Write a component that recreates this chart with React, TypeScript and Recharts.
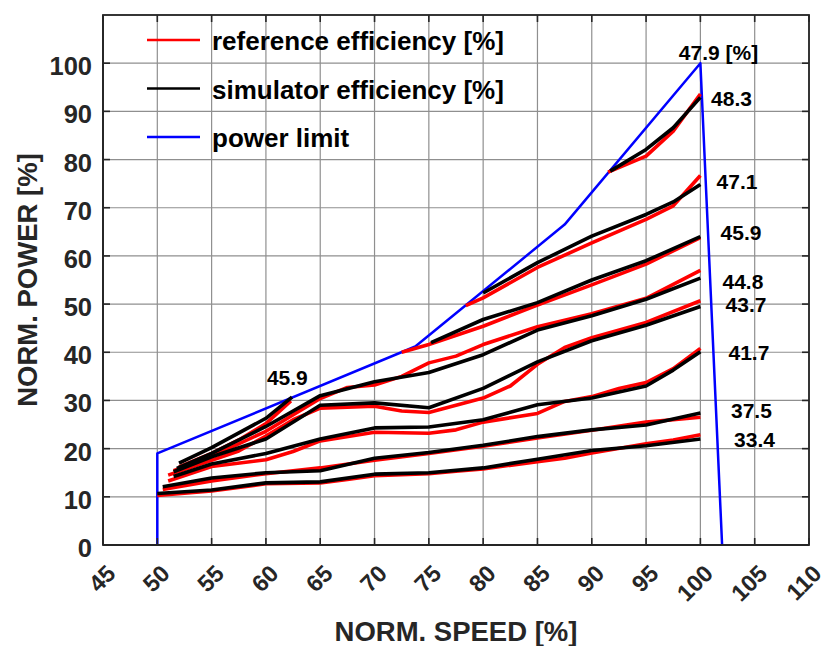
import React from 'react';
import { LineChart, Line, XAxis, YAxis, CartesianGrid, ReferenceDot } from 'recharts';

type Pt = [number, number];

// ---- axis ticks ----
const speedTicks = [45, 50, 55, 60, 65, 70, 75, 80, 85, 90, 95, 100, 105, 110];
const powerTicks = [0, 10, 20, 30, 40, 50, 60, 70, 80, 90, 100];
const speedMin = 45;
const speedMax = 110;
const powerMin = 0;
const powerMax = 110;

// ---- power limit (speed %, power %) ----
const powerLimit: Pt[] = [[50, 0], [50, 19], [73.75, 41.2], [87.5, 66.5], [100, 100], [102, 0]];

// ---- reference efficiency curves (speed %, power %) ----
const ref334: Pt[] = [[50, 10.3], [55, 11.2], [60, 12.7], [65, 12.9], [67.5, 13.6], [70, 14.4], [75, 14.8], [77.5, 15.3], [80, 15.8], [85, 17.3], [87.5, 18.0], [90, 19.1], [95, 21.0], [97.5, 21.8], [100, 22.9]];
const ref375: Pt[] = [[50.5, 11.5], [55, 13.3], [60, 14.8], [65, 16.0], [70, 17.6], [75, 19.0], [80, 20.5], [85, 22.2], [90, 23.8], [95, 25.5], [100, 26.5]];
const ref417: Pt[] = [[51, 13.3], [55, 16.3], [60, 17.7], [62.5, 19.4], [65, 21.6], [70, 23.4], [75, 23.2], [77.5, 23.9], [80, 25.5], [85, 27.3], [87.5, 29.8], [90, 30.8], [92.5, 32.5], [95, 33.7], [97.5, 36.6], [100, 40.8]];
const ref437: Pt[] = [[51, 14.5], [55, 17.6], [57.5, 19.5], [60, 22.6], [62.5, 26.0], [65, 28.4], [70, 28.8], [72.5, 27.8], [75, 27.5], [80, 30.5], [82.5, 33.0], [85, 37.5], [87.5, 41.0], [90, 43.0], [95, 46.2], [100, 50.7]];
const ref448: Pt[] = [[51.5, 15.4], [55, 18.4], [60, 23.6], [65, 30.4], [67.5, 32.7], [70, 33.2], [72.5, 35.0], [75, 37.8], [77.5, 39.2], [80, 41.6], [85, 45.3], [90, 48.0], [95, 51.2], [100, 57.0]];
const ref459a: Pt[] = [[52, 16.2], [55, 19.0], [57.5, 21.8], [60, 25.2], [62.3, 29.9]];
const ref459b: Pt[] = [[72.5, 40.0], [75, 41.6], [80, 45.4], [85, 49.8], [90, 54.0], [95, 58.3], [100, 63.8]];
const ref471: Pt[] = [[78.4, 49.7], [80, 51.3], [85, 57.6], [90, 62.7], [95, 67.6], [97.5, 70.4], [100, 76.7]];
const ref483: Pt[] = [[91.5, 77.4], [95, 80.7], [97.5, 85.9], [100, 93.6]];

// ---- simulator efficiency curves (speed %, power %) ----
const sim334: Pt[] = [[50, 10.7], [55, 11.4], [60, 12.9], [65, 13.1], [70, 14.7], [75, 15.0], [80, 16.0], [85, 17.8], [90, 19.6], [95, 20.6], [100, 22.0]];
const sim375: Pt[] = [[50.5, 12.1], [55, 13.9], [60, 15.0], [65, 15.4], [70, 18.0], [75, 19.2], [80, 20.7], [85, 22.5], [90, 23.9], [95, 24.9], [100, 27.4]];
const sim417: Pt[] = [[51.5, 14.2], [55, 16.8], [60, 19.0], [65, 22.0], [70, 24.3], [75, 24.5], [80, 26.0], [85, 29.1], [90, 30.5], [95, 33.0], [97.5, 36.3], [100, 40.1]];
const sim437: Pt[] = [[51.5, 15.2], [55, 18.3], [60, 22.0], [65, 29.0], [70, 29.5], [75, 28.5], [80, 32.5], [85, 38.0], [90, 42.4], [95, 45.6], [100, 49.5]];
const sim448: Pt[] = [[51.8, 15.9], [55, 19.0], [60, 24.6], [65, 31.0], [70, 33.9], [75, 35.8], [80, 39.5], [85, 44.6], [90, 47.6], [95, 51.0], [100, 55.4]];
const sim459a: Pt[] = [[52, 17.0], [55, 20.2], [60, 26.3], [62.4, 30.7]];
const sim459b: Pt[] = [[75.2, 42.0], [80, 46.8], [85, 50.3], [90, 55.0], [95, 59.0], [100, 64.0]];
const sim471: Pt[] = [[80, 52.3], [85, 58.6], [90, 64.1], [95, 68.6], [97.5, 71.2], [100, 74.8]];
const sim483: Pt[] = [[91.7, 77.6], [95, 82.1], [97.5, 86.6], [100, 92.9]];

const refCurves = [ref334, ref375, ref417, ref437, ref448, ref459a, ref459b, ref471, ref483];
const simCurves = [sim334, sim375, sim417, sim437, sim448, sim459a, sim459b, sim471, sim483];

// ---- efficiency annotations (text, speed %, power %) ----
const annotText = ['47.9 [%]', '48.3', '47.1', '45.9', '44.8', '43.7', '41.7', '37.5', '33.4', '45.9'];
const annotSpeed = [101.67, 102.87, 103.37, 103.74, 103.92, 104.2, 104.47, 104.7, 104.98, 61.97];
const annotPower = [102.3, 92.7, 75.5, 64.9, 54.7, 49.9, 39.9, 27.9, 21.8, 34.7];

const legendLabels = ['reference efficiency [%]', 'simulator efficiency [%]', 'power limit'];
const xTitle = 'NORM. SPEED [%]';
const yTitle = 'NORM. POWER [%]';

const FONT = '"Liberation Sans", Arial, Helvetica, sans-serif';
const AXIS_COLOR = '#262626';
const legendColors = ['#ff0000', '#000000', '#0000ff'];
const TICK_LEN = 7;

const toRows = (pts: Pt[]) => pts.map(([x, y]) => ({ x, y }));

const XTick = (props: any) => {
  const { x, y, payload } = props;
  const ax = x + 14;
  const ay = y + 30;
  return (
    <text x={ax} y={ay} transform={`rotate(-45, ${ax}, ${ay})`} textAnchor="end" fontFamily={FONT}
      fontSize={23.5} fontWeight={700} fill={AXIS_COLOR}>{payload.value}</text>
  );
};

const YTick = (props: any) => {
  const { x, y, payload } = props;
  return (
    <text x={x - 11} y={y + 12} textAnchor="end" fontFamily={FONT} fontSize={25.5} fontWeight={700}
      fill={AXIS_COLOR}>{payload.value}</text>
  );
};

const W = 818;
const H = 638;
const MARGIN = { top: 7, right: 17, bottom: 0, left: 0 };
const Y_AXIS_W = 95;
const X_AXIS_H = 101;
// plot box (layout of the axes, used only for the box outline and inward tick marks)
const PL = MARGIN.left + Y_AXIS_W;
const PT = MARGIN.top;
const PW = W - MARGIN.right - PL;
const PH = H - MARGIN.bottom - X_AXIS_H - PT;
const sx = (v: number) => PL + ((v - speedMin) / (speedMax - speedMin)) * PW;
const sy = (v: number) => PT + PH - ((v - powerMin) / (powerMax - powerMin)) * PH;

export default function App() {
  return (
    <div style={{ position: 'absolute', left: 8, top: 8, width: W, height: H }}>
      <LineChart width={W} height={H} margin={MARGIN}>
        <CartesianGrid stroke="#8f8f8f" strokeWidth={1.2} />
        <XAxis dataKey="x" type="number" domain={[speedMin, speedMax]} ticks={speedTicks}
          interval={0} height={X_AXIS_H} tickSize={0} tickMargin={0} tickLine={false} tick={<XTick />}
          stroke={AXIS_COLOR} strokeWidth={1.8} />
        <YAxis type="number" domain={[powerMin, powerMax]} ticks={powerTicks} interval={0} width={Y_AXIS_W}
          tickSize={0} tickMargin={0} tickLine={false} tick={<YTick />}
          stroke={AXIS_COLOR} strokeWidth={1.8} />

        <Line data={toRows(powerLimit)} dataKey="y" stroke="#0000ff" strokeWidth={2.5} dot={false}
          activeDot={false} isAnimationActive={false} strokeLinejoin="round" />
        {refCurves.map((c, i) => (
          <Line key={'r' + i} data={toRows(c)} dataKey="y" stroke="#ff0000" strokeWidth={3.6} dot={false}
            activeDot={false} isAnimationActive={false} strokeLinejoin="round" />
        ))}
        {simCurves.map((c, i) => (
          <Line key={'s' + i} data={toRows(c)} dataKey="y" stroke="#000000" strokeWidth={3.6} dot={false}
            activeDot={false} isAnimationActive={false} strokeLinejoin="round" />
        ))}

        {annotText.map((t, i) => (
          <ReferenceDot key={'a' + i} x={annotSpeed[i]} y={annotPower[i]} r={0} fill="none" stroke="none"
            label={{ value: t, position: 'center', fill: '#000', fontSize: 21, fontWeight: 700, fontFamily: FONT }} />
        ))}
      </LineChart>
      <svg width={W} height={H} style={{ position: 'absolute', left: 0, top: 0, pointerEvents: 'none' }}>
        {/* axes box outline */}
        <rect x={PL} y={PT} width={PW} height={PH} fill="none" stroke={AXIS_COLOR} strokeWidth={1.8} />
        {/* inward tick marks on all four sides */}
        {speedTicks.map((t) => (
          <g key={'xt' + t}>
            <line x1={sx(t)} x2={sx(t)} y1={PT + PH} y2={PT + PH - TICK_LEN} stroke={AXIS_COLOR} strokeWidth={1.6} />
            <line x1={sx(t)} x2={sx(t)} y1={PT} y2={PT + TICK_LEN} stroke={AXIS_COLOR} strokeWidth={1.6} />
          </g>
        ))}
        {powerTicks.map((t) => (
          <g key={'yt' + t}>
            <line x1={PL} x2={PL + TICK_LEN} y1={sy(t)} y2={sy(t)} stroke={AXIS_COLOR} strokeWidth={1.6} />
            <line x1={PL + PW} x2={PL + PW - TICK_LEN} y1={sy(t)} y2={sy(t)} stroke={AXIS_COLOR} strokeWidth={1.6} />
          </g>
        ))}
        {legendLabels.map((l, i) => {
          const ly = 32 + i * 48.5;
          return (
            <g key={l}>
              <line x1={139} x2={192} y1={ly} y2={ly} stroke={legendColors[i]} strokeWidth={2.6} />
              <text x={204} y={ly + 10} fontFamily={FONT} fontSize={26} fontWeight={700} fill="#000">{l}</text>
            </g>
          );
        })}
        <text x={448} y={633} textAnchor="middle" fontFamily={FONT} fontSize={27.5} fontWeight={700}
          fill={AXIS_COLOR}>{xTitle}</text>
        <text x={28.5} y={272} textAnchor="middle" transform="rotate(-90, 28.5, 272)" fontFamily={FONT}
          fontSize={27.5} fontWeight={700} fill={AXIS_COLOR}>{yTitle}</text>
      </svg>
    </div>
  );
}
